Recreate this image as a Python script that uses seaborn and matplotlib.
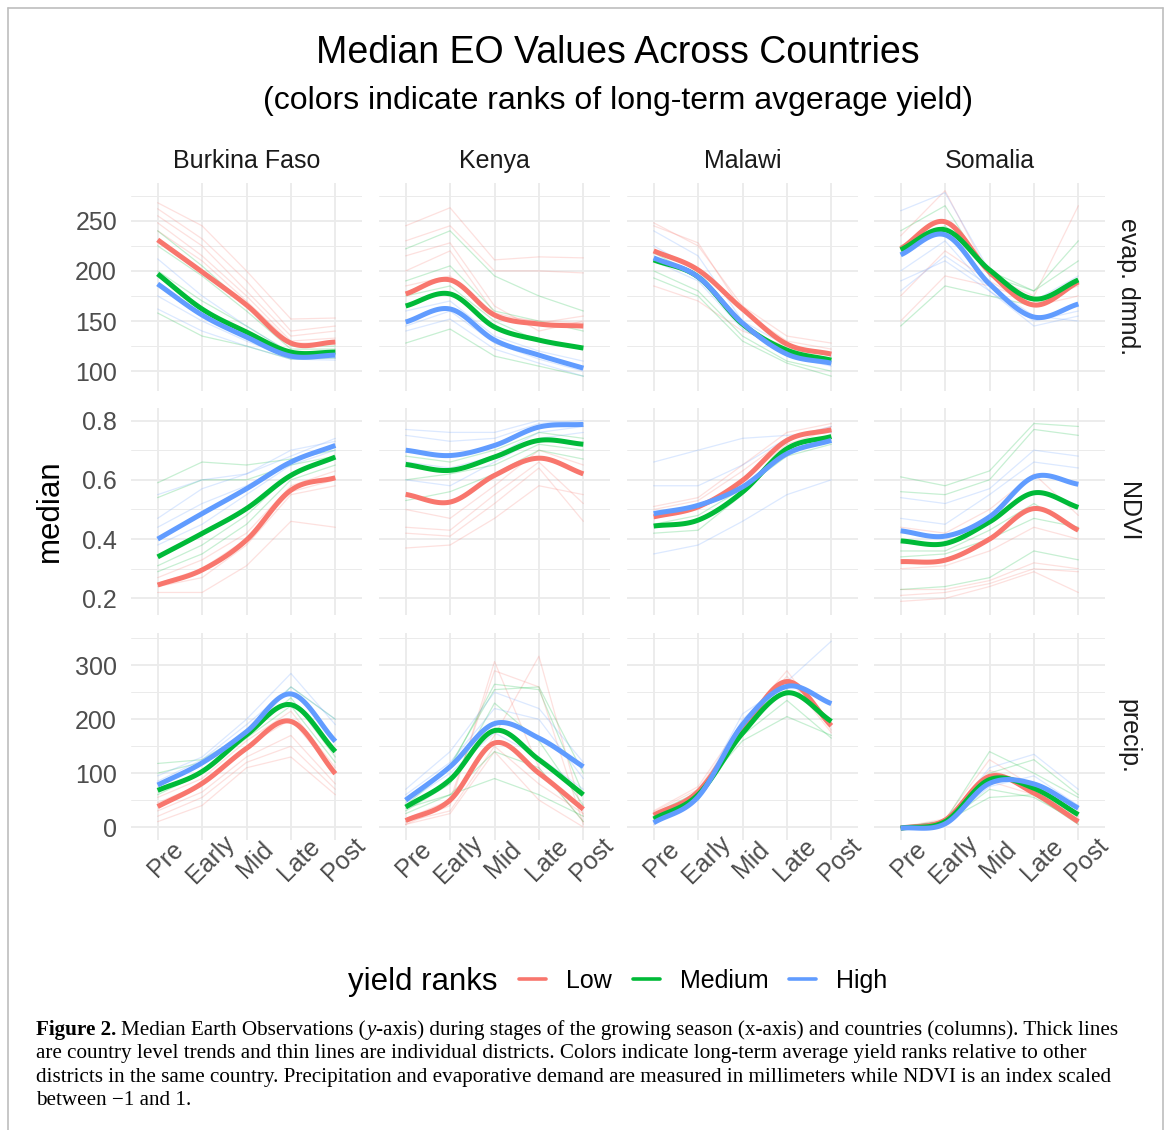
import numpy as np
import pandas as pd
import matplotlib
matplotlib.use("Agg")
import matplotlib.pyplot as plt
from matplotlib.lines import Line2D
from matplotlib.ticker import MultipleLocator
import seaborn as sns

stages = ["Pre", "Early", "Mid", "Late", "Post"]
countries = ["Burkina Faso", "Kenya", "Malawi", "Somalia"]
variables = ["evap. dmnd.", "NDVI", "precip."]
ranks = ["Low", "Medium", "High"]
rank_codes = {"L": "Low", "M": "Medium", "H": "High"}

# country level trends, rows are Low, Medium, High
bf_evap_trend = [[231, 199, 166, 128, 129], [197, 162, 139, 119, 119], [187, 156, 134, 115, 116]]
bf_ndvi_trend = [[0.245, 0.296, 0.397, 0.565, 0.607], [0.34, 0.419, 0.503, 0.615, 0.677], [0.40, 0.486, 0.57, 0.66, 0.716]]
bf_prec_trend = [[38, 81, 146, 196, 99], [68, 103, 171, 227, 140], [78, 119, 177, 247, 159]]
ke_evap_trend = [[177, 191, 156, 147, 145], [165, 177, 144, 131, 123], [149, 162, 131, 116, 103]]
ke_ndvi_trend = [[0.551, 0.525, 0.615, 0.673, 0.62], [0.652, 0.632, 0.677, 0.733, 0.72], [0.70, 0.682, 0.716, 0.778, 0.787]]
ke_prec_trend = [[12, 50, 156, 100, 33], [37, 88, 179, 125, 60], [50, 112, 192, 165, 112]]
mw_evap_trend = [[220, 201, 162, 127, 117], [211, 194, 147, 121, 111], [213, 194, 148, 117, 108]]
mw_ndvi_trend = [[0.475, 0.509, 0.598, 0.733, 0.769], [0.444, 0.464, 0.559, 0.705, 0.746], [0.486, 0.514, 0.576, 0.688, 0.733]]
mw_prec_trend = [[22, 66, 180, 270, 188], [15, 60, 174, 249, 196], [8, 56, 190, 261, 229]]
so_evap_trend = [[222, 249, 199, 166, 189], [221, 241, 201, 172, 191], [216, 236, 187, 154, 167]]
so_ndvi_trend = [[0.324, 0.329, 0.40, 0.503, 0.43], [0.394, 0.385, 0.458, 0.556, 0.507], [0.428, 0.41, 0.475, 0.61, 0.585]]
so_prec_trend = [[-2, 13, 94, 63, 10], [-2, 10, 88, 72, 23], [-2, 6, 81, 80, 35]]

# district lines (one row per district) and their yield rank
bf_evap_lines = [[268, 245, 200, 152, 153], [262, 232, 190, 140, 145], [255, 225, 180, 135, 140],
                 [248, 215, 175, 130, 133], [240, 210, 170, 128, 128], [240, 205, 165, 125, 125],
                 [225, 195, 160, 122, 122], [200, 170, 145, 118, 120], [158, 135, 125, 112, 113],
                 [212, 175, 145, 118, 118], [195, 160, 138, 115, 116], [175, 150, 130, 113, 113],
                 [162, 140, 125, 112, 111]]
bf_evap_ranks = "LLLLLMMMMHHHH"
bf_ndvi_lines = [[0.59, 0.66, 0.65, 0.67, 0.70], [0.54, 0.60, 0.60, 0.65, 0.68], [0.55, 0.60, 0.62, 0.68, 0.74],
                 [0.47, 0.57, 0.62, 0.70, 0.73], [0.44, 0.52, 0.58, 0.66, 0.72], [0.38, 0.45, 0.55, 0.65, 0.70],
                 [0.22, 0.22, 0.31, 0.46, 0.44], [0.24, 0.27, 0.38, 0.55, 0.58], [0.25, 0.30, 0.40, 0.56, 0.60],
                 [0.27, 0.33, 0.42, 0.58, 0.63], [0.29, 0.35, 0.45, 0.60, 0.65], [0.31, 0.38, 0.48, 0.62, 0.67]]
bf_ndvi_ranks = "MMHHHHLLLLMM"
bf_prec_lines = [[95, 130, 200, 285, 190], [85, 125, 190, 260, 200], [118, 125, 175, 260, 200],
                 [100, 120, 170, 240, 130], [60, 100, 165, 225, 120], [10, 40, 110, 130, 60],
                 [20, 55, 120, 150, 70], [30, 65, 130, 170, 80], [45, 80, 150, 200, 100],
                 [55, 90, 160, 215, 110]]
bf_prec_ranks = "HHMMMLLLLL"

ke_evap_lines = [[245, 263, 211, 214, 213], [230, 245, 200, 200, 198], [222, 240, 195, 175, 160],
                 [190, 205, 160, 150, 140], [215, 228, 165, 140, 150], [200, 220, 158, 148, 155],
                 [185, 195, 155, 150, 148], [175, 185, 150, 130, 122], [128, 142, 115, 105, 95],
                 [160, 170, 135, 120, 110], [145, 160, 128, 112, 100], [140, 152, 122, 108, 95]]
ke_evap_ranks = "LLMMLLLMMHHH"
ke_ndvi_lines = [[0.37, 0.38, 0.47, 0.58, 0.55], [0.42, 0.41, 0.52, 0.64, 0.46], [0.44, 0.43, 0.55, 0.66, 0.52],
                 [0.50, 0.47, 0.58, 0.70, 0.65], [0.53, 0.56, 0.62, 0.70, 0.67], [0.60, 0.62, 0.65, 0.72, 0.70],
                 [0.68, 0.66, 0.70, 0.76, 0.74], [0.77, 0.76, 0.76, 0.80, 0.79], [0.75, 0.73, 0.74, 0.79, 0.80],
                 [0.66, 0.64, 0.68, 0.76, 0.78], [0.60, 0.58, 0.66, 0.74, 0.76]]
ke_ndvi_ranks = "LLLLMMMHHHH"
ke_prec_lines = [[5, 40, 307, 110, 10], [10, 45, 170, 317, 20], [15, 50, 290, 260, 5],
                 [10, 30, 150, 80, 25], [5, 25, 140, 50, 0], [40, 110, 265, 255, 60],
                 [30, 80, 230, 160, 40], [25, 60, 140, 110, 10], [35, 60, 90, 60, 20],
                 [50, 115, 255, 260, 100], [70, 140, 250, 220, 120], [60, 120, 220, 200, 90],
                 [45, 100, 175, 130, 70]]
ke_prec_ranks = "LLLLLMMMMMHHH"

mw_evap_lines = [[248, 225, 165, 135, 128], [245, 228, 160, 130, 122], [240, 215, 150, 125, 115],
                 [225, 200, 145, 115, 105], [200, 180, 135, 110, 100], [193, 175, 130, 108, 95],
                 [185, 170, 140, 125, 118], [210, 190, 142, 118, 108], [218, 195, 148, 120, 110]]
mw_evap_ranks = "LLHHMMLHM"
mw_ndvi_lines = [[0.66, 0.70, 0.74, 0.75, 0.76], [0.35, 0.38, 0.46, 0.55, 0.60], [0.58, 0.58, 0.65, 0.74, 0.78],
                 [0.50, 0.53, 0.63, 0.74, 0.78], [0.51, 0.54, 0.65, 0.76, 0.79], [0.47, 0.50, 0.60, 0.72, 0.77],
                 [0.42, 0.43, 0.55, 0.70, 0.74], [0.45, 0.48, 0.57, 0.68, 0.72]]
mw_ndvi_ranks = "HHHLLLMM"
mw_prec_lines = [[5, 50, 200, 270, 345], [10, 55, 210, 265, 230], [30, 75, 195, 290, 180],
                 [28, 70, 185, 280, 175], [20, 60, 170, 235, 165], [25, 65, 160, 205, 170],
                 [15, 50, 180, 255, 200]]
mw_prec_ranks = "HHLLMMM"

so_evap_lines = [[235, 280, 195, 175, 265], [240, 265, 195, 180, 230], [260, 278, 200, 170, 195],
                 [150, 195, 185, 170, 185], [145, 185, 175, 165, 190], [190, 210, 180, 150, 160],
                 [225, 245, 200, 180, 210], [200, 230, 180, 145, 155], [175, 220, 190, 165, 175],
                 [180, 215, 185, 155, 150]]
so_evap_ranks = "LMHLMHMHLH"
so_ndvi_lines = [[0.61, 0.58, 0.63, 0.79, 0.78], [0.56, 0.55, 0.60, 0.77, 0.75], [0.54, 0.52, 0.57, 0.70, 0.68],
                 [0.47, 0.45, 0.55, 0.66, 0.64], [0.44, 0.42, 0.50, 0.62, 0.48], [0.36, 0.36, 0.43, 0.52, 0.43],
                 [0.34, 0.35, 0.40, 0.47, 0.44], [0.30, 0.31, 0.36, 0.44, 0.40], [0.23, 0.23, 0.26, 0.32, 0.30],
                 [0.23, 0.24, 0.27, 0.36, 0.33], [0.19, 0.20, 0.24, 0.29, 0.22], [0.21, 0.22, 0.25, 0.30, 0.29]]
so_ndvi_ranks = "MMHHLMMLLMLL"
so_prec_lines = [[0, 12, 140, 100, 55], [0, 10, 110, 135, 70], [0, 10, 100, 125, 60],
                 [0, 15, 125, 75, 20], [0, 12, 105, 80, 15], [0, 8, 70, 55, 10],
                 [0, 10, 55, 60, 5], [0, 8, 75, 95, 40], [0, 10, 85, 60, 5]]
so_prec_ranks = "MHMLLMMHL"

panels = {
    ("Burkina Faso", "evap. dmnd."): (bf_evap_trend, bf_evap_lines, bf_evap_ranks),
    ("Burkina Faso", "NDVI"): (bf_ndvi_trend, bf_ndvi_lines, bf_ndvi_ranks),
    ("Burkina Faso", "precip."): (bf_prec_trend, bf_prec_lines, bf_prec_ranks),
    ("Kenya", "evap. dmnd."): (ke_evap_trend, ke_evap_lines, ke_evap_ranks),
    ("Kenya", "NDVI"): (ke_ndvi_trend, ke_ndvi_lines, ke_ndvi_ranks),
    ("Kenya", "precip."): (ke_prec_trend, ke_prec_lines, ke_prec_ranks),
    ("Malawi", "evap. dmnd."): (mw_evap_trend, mw_evap_lines, mw_evap_ranks),
    ("Malawi", "NDVI"): (mw_ndvi_trend, mw_ndvi_lines, mw_ndvi_ranks),
    ("Malawi", "precip."): (mw_prec_trend, mw_prec_lines, mw_prec_ranks),
    ("Somalia", "evap. dmnd."): (so_evap_trend, so_evap_lines, so_evap_ranks),
    ("Somalia", "NDVI"): (so_ndvi_trend, so_ndvi_lines, so_ndvi_ranks),
    ("Somalia", "precip."): (so_prec_trend, so_prec_lines, so_prec_ranks),
}

# long tables
dist_rows, trend_rows = [], []
for (country, var), (trend, lines, codes) in panels.items():
    for k, (vals, code) in enumerate(zip(lines, codes)):
        for i, v in enumerate(vals):
            dist_rows.append(dict(country=country, variable=var, district=k,
                                  rank=rank_codes[code], x=i, value=v))
    for r, vals in zip(ranks, trend):
        for i, v in enumerate(vals):
            trend_rows.append(dict(country=country, variable=var, rank=r, x=i, value=v))
districts = pd.DataFrame(dist_rows)
trends = pd.DataFrame(trend_rows)


def smooth(xk, yk, n=120):
    # catmull-rom curve through the stage values (stands in for the loess trend)
    xk = np.asarray(xk, float)
    yk = np.asarray(yk, float)
    h = np.diff(xk)
    d = np.diff(yk) / h
    m = np.empty_like(yk)
    m[1:-1] = (yk[2:] - yk[:-2]) / (xk[2:] - xk[:-2])
    m[0], m[-1] = d[0], d[-1]
    xs = np.linspace(xk[0], xk[-1], n)
    idx = np.clip(np.searchsorted(xk, xs) - 1, 0, len(h) - 1)
    t = (xs - xk[idx]) / h[idx]
    h00 = 2 * t**3 - 3 * t**2 + 1
    h10 = t**3 - 2 * t**2 + t
    h01 = -2 * t**3 + 3 * t**2
    h11 = t**3 - t**2
    ys = h00 * yk[idx] + h10 * h[idx] * m[idx] + h01 * yk[idx + 1] + h11 * h[idx] * m[idx + 1]
    return xs, ys


palette = {"Low": "#F8766D", "Medium": "#00BA38", "High": "#619CFF"}

sns.set_theme(style="white")
plt.rcParams["font.family"] = ["Liberation Sans", "DejaVu Sans"]
plt.rcParams["text.color"] = "black"

W, H = 1171, 1130
fig = plt.figure(figsize=(W / 100, H / 100), dpi=100)

col_left = [131, 379, 627, 874]
row_top = [183, 407.5, 632.5]
panel_w, panel_h = 231, 207.5
ylims = {"evap. dmnd.": (80.7, 287.7), "NDVI": (0.144, 0.844), "precip.": (-24, 361)}
majors = {"evap. dmnd.": 50, "NDVI": 0.2, "precip.": 100}
grid_col = "#EBEBEB"
tick_col = "#4D4D4D"

for ri, var in enumerate(variables):
    for ci, country in enumerate(countries):
        ax = fig.add_axes([col_left[ci] / W, 1 - (row_top[ri] + panel_h) / H, panel_w / W, panel_h / H])
        sub = districts[(districts.country == country) & (districts.variable == var)]
        sns.lineplot(data=sub, x="x", y="value", hue="rank", units="district", estimator=None,
                     palette=palette, hue_order=ranks, alpha=0.22, lw=0.9, legend=False, ax=ax)
        for r in ranks:
            t = trends[(trends.country == country) & (trends.variable == var) & (trends["rank"] == r)]
            xs, ys = smooth(t["x"], t["value"])
            sns.lineplot(x=xs, y=ys, color=palette[r], lw=3.6, estimator=None, sort=False,
                         solid_capstyle="butt", zorder=5, ax=ax)
        ax.set_xlim(-0.6, 4.6)
        ax.set_ylim(*ylims[var])
        ax.set_xticks(range(5))
        ax.yaxis.set_major_locator(MultipleLocator(majors[var]))
        ax.yaxis.set_minor_locator(MultipleLocator(majors[var] / 2))
        ax.grid(which="major", color=grid_col, lw=1.3)
        ax.grid(which="minor", axis="y", color=grid_col, lw=0.7)
        ax.set_axisbelow(True)
        for s in ax.spines.values():
            s.set_visible(False)
        ax.set_xlabel("")
        ax.set_ylabel("")
        ax.tick_params(which="both", length=0, labelsize=18, labelcolor=tick_col)
        ax.tick_params(axis="y", pad=10)
        if ri == 2:
            ax.set_xticklabels(stages, rotation=45, ha="center", va="top", rotation_mode="anchor")
            ax.tick_params(axis="x", pad=8)
        else:
            ax.tick_params(axis="x", labelbottom=False)
        if ci != 0:
            ax.tick_params(axis="y", labelleft=False)
        if var == "NDVI":
            ax.set_yticklabels([f"{v:.1f}" for v in ax.get_yticks()])

# facet strips
for ci, country in enumerate(countries):
    fig.text((col_left[ci] + panel_w / 2) / W, 1 - 168 / H, country, ha="center", va="baseline",
             fontsize=18, color="#1A1A1A")
for ri, var in enumerate(variables):
    fig.text(1128 / W, 1 - (row_top[ri] + panel_h / 2) / H, var, ha="center", va="center",
             rotation=-90, fontsize=18, color="#1A1A1A")

fig.text(50 / W, 1 - 511 / H, "median", rotation=90, ha="center", va="center", fontsize=22.5)

fig.text(618 / W, 1 - 63 / H, "Median EO Values Across Countries", ha="center", va="baseline", fontsize=27)
fig.text(618 / W, 1 - 109 / H, "(colors indicate ranks of long-term avgerage yield)", ha="center",
         va="baseline", fontsize=23)

# legend
fig.text(348 / W, 1 - 990 / H, "yield ranks", ha="left", va="baseline", fontsize=22.5)
handles = [Line2D([], [], color=palette[r], lw=2.6) for r in ranks]
leg = fig.legend(handles, ranks, loc="center left", bbox_to_anchor=(519 / W, 1 - 981 / H), ncol=3,
                 frameon=False, fontsize=18, handlelength=1.08, handletextpad=0.8, columnspacing=0.84,
                 borderpad=0, borderaxespad=0)
for txt in leg.get_texts():
    txt.set_color("black")

# border
for xs, ys in [([8, 8], [8, H]), ([8, 1163], [8, 8]), ([1163, 1163], [8, H])]:
    fig.add_artist(Line2D([x / W for x in xs], [1 - y / H for y in ys], transform=fig.transFigure,
                          color="#BEBEBE", lw=1.2))

# caption
cap_size = 15.2
cap_font = ["Liberation Serif", "DejaVu Serif"]
renderer = fig.canvas.get_renderer()


def caption_line(y, runs, x=36):
    for txt, weight, style, gap in runs:
        x += gap
        t = fig.text(x / W, 1 - y / H, txt, ha="left", va="baseline", fontsize=cap_size,
                     family=cap_font, fontweight=weight, fontstyle=style)
        x = t.get_window_extent(renderer=renderer).x1


caption_line(1035, [("Figure 2.", "bold", "normal", 0),
                    ("Median Earth Observations (", "normal", "normal", 5),
                    ("y", "normal", "italic", 0.5),
                    ("-axis) during stages of the growing season (x-axis) and countries (columns). Thick lines",
                     "normal", "normal", 0.5)])
caption_line(1058.3, [("are country level trends and thin lines are individual districts. Colors indicate "
                       "long-term average yield ranks relative to other", "normal", "normal", 0)])
caption_line(1081.7, [("districts in the same country. Precipitation and evaporative demand are measured in "
                       "millimeters while NDVI is an index scaled", "normal", "normal", 0)])
caption_line(1105, [("between \u22121 and 1.", "normal", "normal", 0)])

fig.savefig("out.png", dpi=100)
